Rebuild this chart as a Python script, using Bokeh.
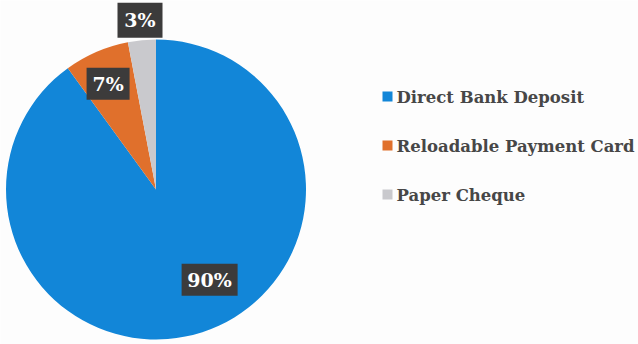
import numpy as np
from bokeh.plotting import figure
from bokeh.models import Range1d, ColumnDataSource
from bokeh.core.properties import value
from bokeh.embed import file_html
from bokeh.resources import INLINE

categories = ["Direct Bank Deposit", "Reloadable Payment Card", "Paper Cheque"]
shares = [90, 7, 3]
labels = ["90%", "7%", "3%"]
colors = ["#1286d8", "#e0702c", "#c9c9cd"]

W, H = 638, 344
p = figure(width=W, height=H, output_backend="svg", toolbar_location=None,
           x_range=Range1d(0, W), y_range=Range1d(0, H), min_border=0)
p.axis.visible = False
p.grid.visible = False
p.outline_line_color = None
p.background_fill_color = "#fdfdfd"
p.border_fill_color = "#fdfdfd"

cx, cy, R = 155.5, H - 189, 150
vals = np.array(shares, dtype=float)
frac = vals / vals.sum()
# clockwise from 12 o'clock
ends = np.pi / 2 - np.concatenate([[0], np.cumsum(frac)[:-1]]) * 2 * np.pi
starts = ends - frac * 2 * np.pi
src = ColumnDataSource(dict(start=starts, end=ends, color=colors))
p.wedge(x=cx, y=cy, radius=R, start_angle="start", end_angle="end",
        color="color", line_color=None, source=src)

# label placement (angle from centre, radius)
mid = (starts + ends) / 2
lab_r = [105, 116, 170]
lab_ang = [np.deg2rad(-59.3), mid[1] + np.deg2rad(1), mid[2]]
lx = [cx + r * np.cos(a) for r, a in zip(lab_r, lab_ang)]
ly = [cy + r * np.sin(a) for r, a in zip(lab_r, lab_ang)]
bw = [56, 43, 45]
bh = [32, 32, 35]
p.rect(x=lx, y=ly, width=bw, height=bh, fill_color="#3c3b3b", line_color=None)
p.text(x=lx, y=ly, text=labels, text_align="center", text_baseline="middle",
       text_color="white", text_font=value("DejaVu Serif"), text_font_style="bold",
       text_font_size="19px")

# legend
ly0 = [H - 96, H - 145, H - 194]
p.rect(x=[387] * 3, y=ly0, width=10, height=10, fill_color=colors, line_color=None)
p.text(x=[396] * 3, y=[y - 1 for y in ly0], text=categories, text_align="left",
       text_baseline="middle", text_color="#474747",
       text_font=value("DejaVu Serif"), text_font_style="bold", text_font_size="16.5px")

open("out.html", "w").write(file_html(p, INLINE))
